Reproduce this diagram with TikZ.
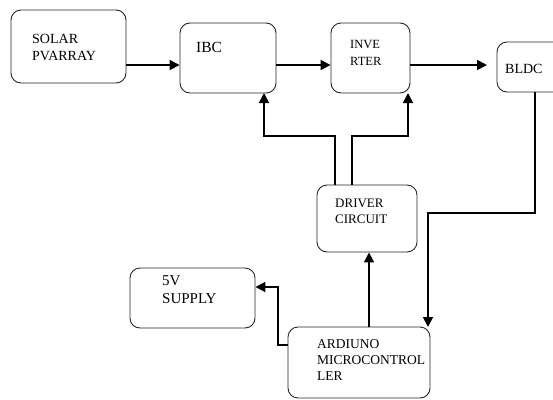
\documentclass[tikz,border=0pt]{standalone}
\usepackage{fontspec}
\setmainfont{Liberation Serif}
\usetikzlibrary{arrows.meta,calc}
\begin{document}
\begin{tikzpicture}[x=1pt,y=-1pt,
  blk/.style={draw=black!85,line width=0.9pt,rounded corners=10pt,inner sep=0pt},
  lbl/.style={anchor=base west,inner sep=0pt,font=\fontsize{14}{17}\selectfont,align=left},
  conn/.style={line width=1.8pt,-{Triangle[length=10pt,width=10pt]}},
  plain/.style={line width=1.8pt}]
\path[use as bounding box,clip] (0,0) rectangle (553,399);
\fill[white] (0,0) rectangle (553,399);
% boxes
\node[blk,minimum width=115pt,minimum height=73pt] (solar) at (68.5,46.5) {};
\node[blk,minimum width=96pt,minimum height=70pt] (ibc) at (228,58) {};
\node[blk,minimum width=79pt,minimum height=70pt] (inv) at (370.5,58) {};
\node[blk,minimum width=70pt,minimum height=50pt] (bldc) at (532,67) {};
\node[blk,minimum width=100pt,minimum height=67pt] (drv) at (367,218.5) {};
\node[blk,minimum width=125pt,minimum height=60pt] (sup) at (192.5,298) {};
\node[blk,minimum width=142pt,minimum height=71pt] (ard) at (359,362.5) {};
% labels (anchor = baseline of the last line)
\node[lbl] (tsolar) at (32,60) {SOLAR\\PVARRAY};
\node[lbl,font=\fontsize{15.5}{17}\selectfont] (tibc) at (196,52) {IBC};
\node[lbl,font=\fontsize{12.5}{17}\selectfont] (tinv) at (350,65) {INVE\\RTER};
\node[lbl,font=\fontsize{14}{16}\selectfont] (tbldc) at (505,73) {BLDC};
\node[lbl,font=\fontsize{13}{16}\selectfont] (tdrv) at (335,223) {DRIVER\\CIRCUIT};
\node[lbl,font=\fontsize{15}{18}\selectfont] (tsup) at (162,303) {5V\\SUPPLY};
\node[lbl,font=\fontsize{13.5}{16}\selectfont] (tard) at (317,380) {ARDIUNO\\MICROCONTROL\\LER};
% connectors
\coordinate (bldcin) at (487,65);
\draw[conn] (solar.east |- 0,65) -- (ibc.west |- 0,65);
\draw[conn] (ibc.east |- 0,65) -- (inv.west |- 0,65);
\draw[conn] (inv.east |- 0,65) -- (bldcin);
\draw[conn] (335,185) |- (264,136) -- (264,93);
\draw[conn] (352,185) |- (408,136) -- (408,93);
\draw[conn] (ard.north -| 369,0) -- (drv.south -| 369,0);
\draw[conn] (ard.west |- 0,345) -- (278,345) |- (sup.east |- 0,287);
\draw[conn] (bldc.south -| 535,0) |- (428,213) -- (428,327);
\end{tikzpicture}
\end{document}
